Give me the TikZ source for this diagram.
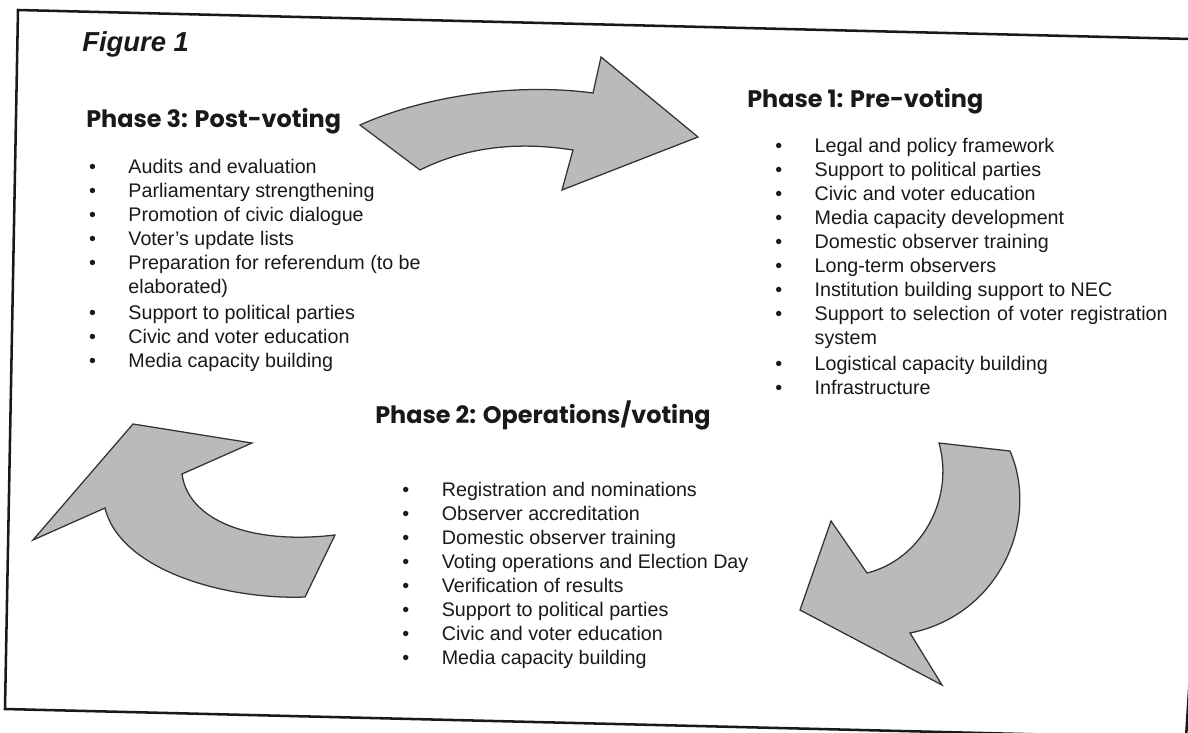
\documentclass[tikz,border=0pt]{standalone}
\usepackage{fontspec}
\setmainfont{Liberation Sans}
\newfontfamily\headfont{Poppins}
\usetikzlibrary{positioning}
\definecolor{arrowgray}{RGB}{186,186,186}
\definecolor{inkgray}{RGB}{25,25,25}

\begin{document}
\begin{tikzpicture}[x=0.025cm, y=-0.025cm,
    ttl/.style={inner sep=0pt, font=\bfseries\itshape\fontsize{19.5}{22}\selectfont, text=inkgray},
    phase/.style={inner sep=0pt, font=\headfont\bfseries\fontsize{17}{20}\selectfont, text=inkgray},
    lst/.style={inner sep=0pt, font=\fontsize{14}{17}\selectfont, text=inkgray},
    blk/.style={draw=black!80, line width=0.9pt, fill=arrowgray, line join=miter},
    frame/.style={line width=1.8pt, draw=black!90}
  ]
  \useasboundingbox (0,0) rectangle (1188,732);
  \fill[white] (0,0) rectangle (1188,732);
  \clip (0,0) rectangle (1188,732);

  \draw[frame] (18,10) -- (1230,40) -- (1186,738) -- (5,709) -- cycle;

  \node[ttl, anchor=base west] (fig) at (82,51) {Figure 1};

  \node[phase, anchor=base west] (p3) at (86,127) {Phase 3: Post-voting};
  \node[phase, anchor=base west] (p1) at (747,107) {Phase 1: Pre-voting};
  \node[phase, anchor=base west] (p2) at (375,423) {Phase 2: Operations/voting};

  \node[lst, below right=0.74cm and 0.07cm of p3.base west] (l3) {%
    \begin{tabular}{@{}p{28pt}@{}l@{}}
      \textbullet & Audits and evaluation\\
      \textbullet & Parliamentary strengthening\\
      \textbullet & Promotion of civic dialogue\\
      \textbullet & Voter's update lists\\
      \textbullet & Preparation for referendum (to be\\
                  & elaborated)\\[2pt]
      \textbullet & Support to political parties\\
      \textbullet & Civic and voter education\\
      \textbullet & Media capacity building
    \end{tabular}};

  \node[lst, below right=0.72cm and 0.7cm of p1.base west] (l1) {%
    \begin{tabular}{@{}p{28pt}@{}l@{}}
      \textbullet & Legal and policy framework\\
      \textbullet & Support to political parties\\
      \textbullet & Civic and voter education\\
      \textbullet & Media capacity development\\
      \textbullet & Domestic observer training\\
      \textbullet & Long-term observers\\
      \textbullet & Institution building support to NEC\\
      \textbullet & \makebox[251pt][s]{Support to selection of voter registration}\\
                  & system\\[2pt]
      \textbullet & Logistical capacity building\\
      \textbullet & Infrastructure
    \end{tabular}};

  \node[lst, below right=1.42cm and 0.68cm of p2.base west] (l2) {%
    \begin{tabular}{@{}p{28pt}@{}l@{}}
      \textbullet & Registration and nominations\\
      \textbullet & Observer accreditation\\
      \textbullet & Domestic observer training\\
      \textbullet & Voting operations and Election Day\\
      \textbullet & Verification of results\\
      \textbullet & Support to political parties\\
      \textbullet & Civic and voter education\\
      \textbullet & Media capacity building
    \end{tabular}};

  % phase 3 -> phase 1
  \draw[blk] (360,125) .. controls (420,98) and (510,82) .. (593,93)
    -- (601,57) -- (698,137) -- (562,190) -- (573,150)
    .. controls (510,140) and (460,150) .. (420,170) -- cycle;
  % phase 1 -> phase 2
  \draw[blk] (939,443) -- (1010,451)
    .. controls (1040,520) and (1000,615) .. (910,633)
    -- (942,685) -- (800,610) -- (831,521) -- (867,573)
    .. controls (920,560) and (955,500) .. cycle;
  % phase 2 -> phase 3
  \draw[blk] (33,540) -- (133,424) -- (252,443) -- (182,474)
    .. controls (188,520) and (250,545) .. (335,535)
    -- (305,597) .. controls (225,600) and (120,570) .. (105,508) -- cycle;
\end{tikzpicture}
\end{document}
